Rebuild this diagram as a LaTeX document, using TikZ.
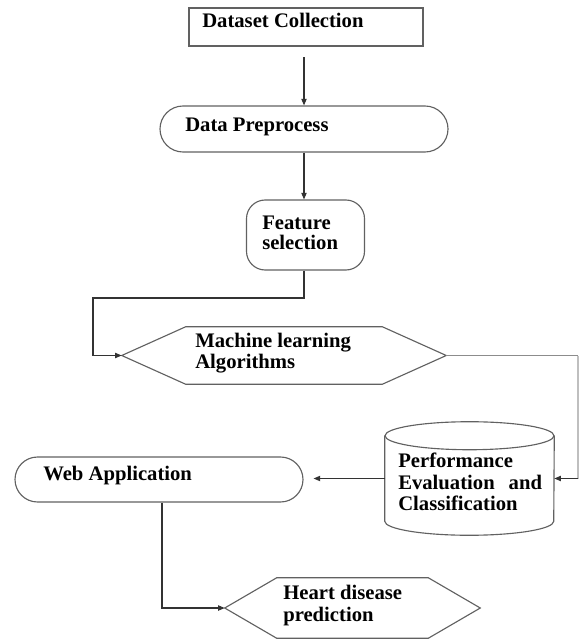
\documentclass[tikz,border=0pt]{standalone}
\usepackage{fontspec}
\setmainfont{Liberation Serif}
\usetikzlibrary{arrows.meta,calc,shapes.misc}
\begin{document}
\begin{tikzpicture}[x=0.75pt,y=-0.75pt,
  outline/.style={draw=black!62, line width=0.85pt},
  box/.style={outline, inner sep=0pt},
  ghost/.style={draw=none, inner sep=0pt},
  conn/.style={draw=black!80, line width=0.8pt},
  faint/.style={draw=black!25, line width=0.8pt},
  arr/.style={conn, -{Triangle[length=5pt,width=4pt]}},
  lbl/.style={font=\bfseries\fontsize{15.5}{20}\selectfont, anchor=base west, inner sep=0pt, text=black}]
\useasboundingbox (0,0) rectangle (581,641);

% nodes (shapes)
\node[box, rectangle, minimum width=175.5pt, minimum height=28.5pt] (ds) at (306,27) {};
\node[box, rounded rectangle, minimum width=216pt, minimum height=34.5pt] (dp) at (304,129) {};
\node[box, rectangle, rounded corners=14pt, minimum width=88.5pt, minimum height=52.5pt] (fs) at (305.5,235) {};
\node[ghost, minimum width=243pt, minimum height=42.75pt] (ml) at (284,355.5) {};
\node[ghost, minimum width=126.75pt, minimum height=84.75pt] (perf) at (469.5,478.5) {};
\node[box, rounded rectangle, minimum width=216pt, minimum height=33.75pt] (web) at (159,479.5) {};
\node[ghost, minimum width=191.25pt, minimum height=45pt] (hd) at (352.5,608) {};

% hexagons
\draw[outline] (ml.west) -- ($(ml.north west)+(64,0)$) -- ($(ml.north east)+(-64,0)$) -- (ml.east)
  -- ($(ml.south east)+(-64,0)$) -- ($(ml.south west)+(64,0)$) -- cycle;
\draw[outline] (hd.west) -- ($(hd.north west)+(52,0)$) -- ($(hd.north east)+(-52,0)$) -- (hd.east)
  -- ($(hd.south east)+(-52,0)$) -- ($(hd.south west)+(52,0)$) -- cycle;

% cylinder
\draw[outline] ($(perf.north west)+(0,14)$) -- ($(perf.south west)+(0,-14)$)
  arc[start angle=180, end angle=360, x radius=63.375pt, y radius=10.5pt]
  -- ($(perf.north east)+(0,14)$);
\draw[outline] ($(perf.north)+(0,14)$) ellipse [x radius=63.375pt, y radius=10.5pt];

% labels
\node[lbl] (t1) at (202,28) {Dataset Collection};
\node[lbl] (t2) at (185,132) {Data Preprocess};
\node[lbl] (t3a) at (262,230) {Feature};
\node[lbl] (t3b) at (262,249) {selection};
\node[lbl] (t4a) at (195,347) {Machine learning};
\node[lbl] (t4b) at (195,368) {Algorithms};
\node[lbl] (t5a) at (398,467) {Performance};
\node[lbl] (t5b) at (398,489) {Evaluation\hspace{10.5pt}and};
\node[lbl] (t5c) at (398,510) {Classification};
\node[lbl] (t6) at (43,480) {Web Application};
\node[lbl] (t7a) at (283,599) {Heart disease};
\node[lbl] (t7b) at (283,621) {prediction};

% connectors
\coordinate (k1) at (93,298);
\coordinate (k2) at (578,478.5);
\draw[arr, shorten <=8pt] (ds.south -| dp.north) -- (dp.north);
\draw[arr] (dp.south) -- (dp.south |- fs.north);
\draw[arr] (fs.south -| dp.south) |- (k1) |- (ml.west);
\draw[conn, draw=black!45] (ml.east) -- (ml.east -| k2);
\draw[faint] (ml.east -| k2) -- (k2);
\draw[arr] (k2) -- (perf.east);
\draw[arr, shorten >=7.5pt] (perf.west) -- (perf.west -| web.east);
\draw[arr] ($(web.south)+(3,0)$) |- (hd.west);
\end{tikzpicture}
\end{document}
